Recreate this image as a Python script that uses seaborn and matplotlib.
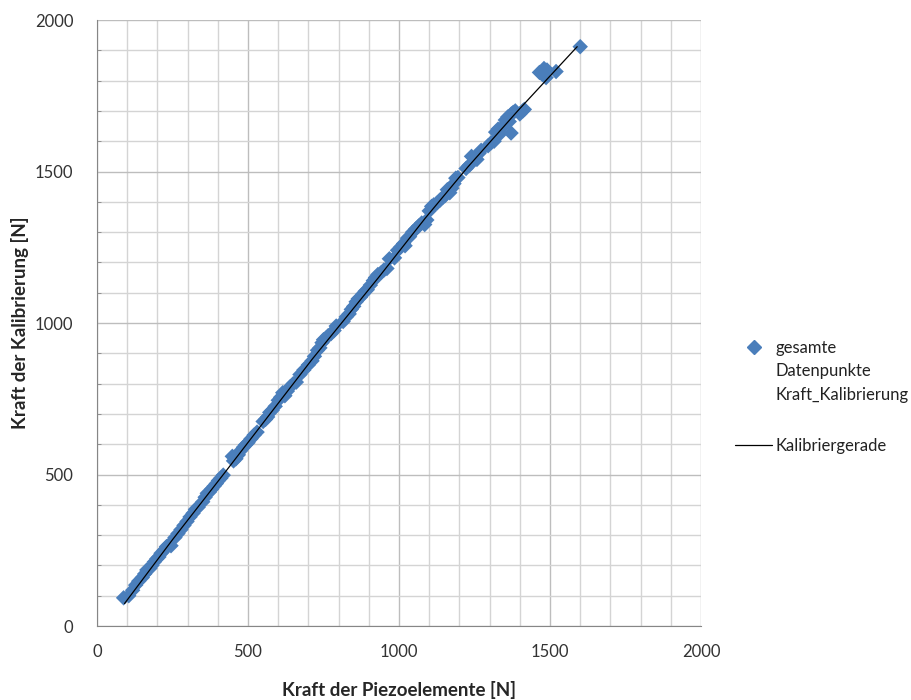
import seaborn as sns
import matplotlib.pyplot as plt
import pandas as pd
from matplotlib.ticker import MultipleLocator
from matplotlib.lines import Line2D
from matplotlib.legend_handler import HandlerLine2D

# measured points (Kraft der Piezoelemente, Kraft der Kalibrierung)
piezo = [88, 105, 118, 128, 138, 150, 158, 165, 175, 182, 190, 198, 205, 212, 222, 230, 238, 245,
         258, 268, 278, 288, 298, 308, 318, 326, 335,
         350, 358, 365, 372, 380, 388, 395, 402, 410, 418,
         448, 452, 460, 468, 475, 485, 492, 500, 510, 520, 530,
         550, 558, 565, 572, 580, 590,
         600, 608, 615, 622, 630, 640, 650, 660, 672, 685, 700, 712,
         720, 730, 738, 745, 750, 758, 765, 775, 785, 792,
         815, 825, 835, 842, 850, 858, 865, 872, 880, 888, 895, 905, 915, 922, 930, 940,
         950, 960, 968, 985, 995, 1005, 1015, 1020, 1028, 1035, 1045, 1055, 1065, 1075, 1085, 1092,
         1100, 1108, 1115, 1125, 1135, 1145, 1152, 1160, 1168, 1175, 1182, 1188, 1195,
         1222, 1232, 1240, 1248, 1258, 1265, 1272,
         1295, 1305, 1315, 1320, 1328, 1335, 1345, 1352, 1360, 1365, 1372, 1378, 1385, 1371,
         1400, 1410, 1415,
         1465, 1475, 1487, 1480, 1490, 1520, 1600]
kalib = [93, 100, 118, 135, 148, 160, 172, 185, 190, 200, 212, 222, 228, 240, 250, 262, 268, 265,
         292, 305, 318, 332, 345, 360, 372, 385, 392,
         410, 425, 438, 442, 452, 462, 470, 480, 488, 498,
         560, 545, 552, 565, 578, 590, 598, 605, 618, 630, 640,
         675, 682, 690, 705, 712, 725,
         745, 755, 770, 760, 775, 790, 800, 805, 830, 845, 862, 875,
         890, 910, 918, 935, 945, 950, 958, 965, 975, 990,
         1005, 1020, 1030, 1045, 1055, 1070, 1080, 1085, 1095, 1105, 1110, 1125, 1140, 1150, 1160, 1165,
         1175, 1180, 1212, 1215, 1240, 1250, 1262, 1255, 1280, 1285, 1300, 1310, 1320, 1330, 1325, 1340,
         1370, 1385, 1390, 1395, 1405, 1415, 1420, 1440, 1430, 1445, 1460, 1478, 1480,
         1510, 1520, 1550, 1545, 1540, 1560, 1570,
         1585, 1595, 1600, 1630, 1640, 1625, 1650, 1670, 1680, 1665, 1690, 1695, 1700, 1627,
         1690, 1700, 1705,
         1827, 1820, 1810, 1840, 1835, 1830, 1912]

# calibration line vertices
line_x = [91, 250, 426, 712, 932, 1086, 1228, 1393, 1590]
line_y = [74, 285, 510, 880, 1150, 1345, 1515, 1700, 1912]

pts = pd.DataFrame({"piezo": piezo, "kalib": kalib})
gerade = pd.DataFrame({"x": line_x, "y": line_y})


class FirstLineHandler(HandlerLine2D):
    # put the legend marker next to the first line of a multi-line label (Excel style)
    def create_artists(self, *args, **kwargs):
        artists = super().create_artists(*args, **kwargs)
        for a in artists:
            a.set_ydata([y + 18 for y in a.get_ydata()])
        return artists


sns.set_style("white")
plt.rcParams['font.family'] = ['Lato', 'DejaVu Sans']

fig = plt.figure(figsize=(9.11, 7.0), dpi=100)
ax = fig.add_axes([0.1065, 0.1057, 0.663, 0.8657])

sns.scatterplot(data=pts, x="piezo", y="kalib", marker="D", s=62, color="#4a7ebb",
                edgecolor="none", ax=ax, zorder=3)
sns.lineplot(data=gerade, x="x", y="y", sort=False, estimator=None, color="black",
             linewidth=0.9, ax=ax, zorder=4)

ax.set_xlim(0, 2000)
ax.set_ylim(0, 2000)
ax.xaxis.set_major_locator(MultipleLocator(500))
ax.yaxis.set_major_locator(MultipleLocator(500))
ax.xaxis.set_minor_locator(MultipleLocator(100))
ax.yaxis.set_minor_locator(MultipleLocator(100))
ax.grid(which="major", color="#bdbdbd", linewidth=1.0)
ax.grid(which="minor", color="#d4d4d4", linewidth=1.0)
ax.set_axisbelow(True)

for side in ["top", "right"]:
    ax.spines[side].set_visible(False)
for side in ["left", "bottom"]:
    ax.spines[side].set_color("#868686")
ax.tick_params(which="major", direction="out", length=5, color="#868686",
               labelsize=12, labelcolor="#333333", pad=8)
ax.tick_params(axis="y", which="minor", direction="in", length=3, color="#868686", left=True)
ax.tick_params(axis="x", which="minor", length=0)
ax.tick_params(axis="y", which="major", pad=12)

ax.set_xlabel("Kraft der Piezoelemente [N]", fontsize=13.5, fontweight="bold", labelpad=15)
ax.set_ylabel("Kraft der Kalibrierung [N]", fontsize=13.5, fontweight="bold", labelpad=4)

marker_handle = Line2D([], [], marker="D", linestyle="none", color="#4a7ebb", markersize=7)
line_handle = Line2D([], [], color="black", linewidth=0.9)
labels = ["gesamte\nDatenpunkte\nKraft_Kalibrierung", "Kalibriergerade"]
leg = ax.legend([marker_handle, line_handle], labels, loc="center left",
                bbox_to_anchor=(1.032, 0.378), frameon=False,
                fontsize=12, handlelength=2.2, handletextpad=0.2, labelspacing=2.1,
                labelcolor="#222222", handler_map={marker_handle: FirstLineHandler()})
for t in leg.get_texts():
    t.set_linespacing(1.6)

fig.savefig("out.png", dpi=100)
